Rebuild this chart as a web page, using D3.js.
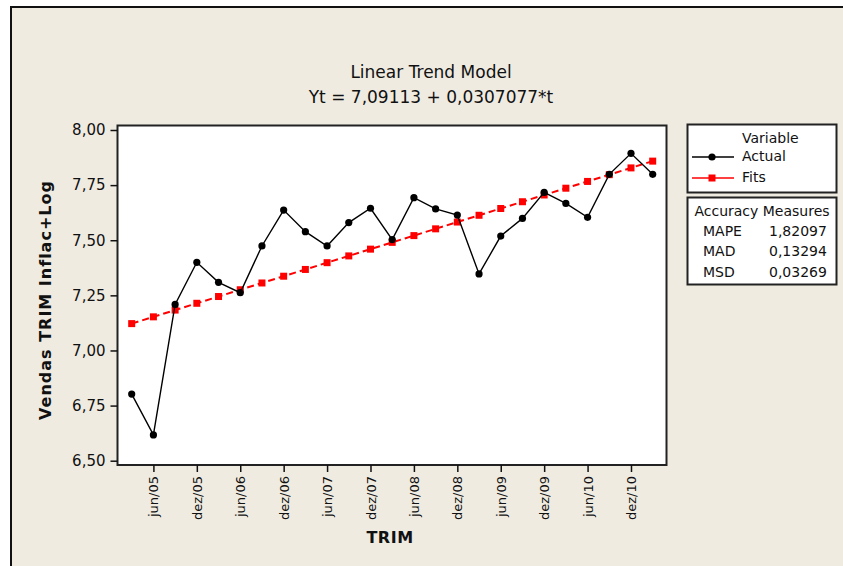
<!DOCTYPE html>
<html>
<head>
<meta charset="utf-8">
<script src="https://cdn.jsdelivr.net/npm/d3@7"></script>
<style>
  body { margin: 0; background: #fff; }
  svg { display: block; }
  text { font-family: "DejaVu Sans", sans-serif; fill: #111; }
</style>
</head>
<body>
<div id="chart"></div>
<script>
// quarters, t = 1..25
var quarters = ["mar/05","jun/05","set/05","dez/05","mar/06","jun/06","set/06","dez/06",
  "mar/07","jun/07","set/07","dez/07","mar/08","jun/08","set/08","dez/08",
  "mar/09","jun/09","set/09","dez/09","mar/10","jun/10","set/10","dez/10","mar/11"];
var tickLabels = ["jun/05","dez/05","jun/06","dez/06","jun/07","dez/07",
  "jun/08","dez/08","jun/09","dez/09","jun/10","dez/10"];
var actual = [6.802, 6.617, 7.209, 7.400, 7.309, 7.262, 7.474, 7.637, 7.539, 7.474, 7.580, 7.645,
  7.503, 7.693, 7.642, 7.614, 7.347, 7.519, 7.599, 7.717, 7.667, 7.604, 7.799, 7.894, 7.799];
var fits = [7.1218, 7.1525, 7.1832, 7.2140, 7.2447, 7.2754, 7.3061, 7.3368, 7.3675, 7.3982,
  7.4289, 7.4596, 7.4903, 7.5210, 7.5517, 7.5825, 7.6132, 7.6439, 7.6746, 7.7053,
  7.7360, 7.7667, 7.7974, 7.8281, 7.8588];
var yTicks = [6.5, 6.75, 7.0, 7.25, 7.5, 7.75, 8.0];
var measureNames = ["MAPE","MAD","MSD"];
var measureValues = ["1,82097","0,13294","0,03269"];

var W = 843, H = 566;
var svg = d3.select("#chart").append("svg")
  .attr("width", W)
  .attr("height", H)

// outer frame
svg.append("rect").attr("x", 11).attr("y", 7).attr("width", W).attr("height", H)
  .attr("fill", "#efebe1").attr("stroke", "#111").attr("stroke-width", 2)

var plot = {left: 117.5, right: 666.5, top: 125.5, bottom: 465};

var x = d3.scaleLinear().domain([1, 25]).range([131.7, 652.7]);
var y = d3.scaleLinear().domain([6.5, 8.0]).range([460.7, 130]);
var fmt = function(v){ return d3.format(".2f")(v).replace(".", ","); };

svg.append("rect")
  .attr("x", plot.left).attr("y", plot.top)
  .attr("width", plot.right - plot.left).attr("height", plot.bottom - plot.top)
  .attr("fill", "#fff").attr("stroke", "#222").attr("stroke-width", 2)

// y axis
var yAxis = svg.append("g")
  .attr("transform", "translate(" + plot.left + ",0)")
  .call(d3.axisLeft(y).tickValues(yTicks).tickFormat(fmt).tickSize(7).tickPadding(5))
yAxis.select(".domain").remove()
yAxis.selectAll("line").attr("stroke", "#111").attr("stroke-width", 1.5)
yAxis.selectAll("text").style("font-size", "15px").attr("fill", "#1b1b2e")

// x axis
var tickIdx = tickLabels.map(function(l){ return quarters.indexOf(l) + 1; });
var xAxis = svg.append("g")
  .attr("transform", "translate(0," + plot.bottom + ")")
  .call(d3.axisBottom(x).tickValues(tickIdx)
    .tickFormat(function(d){ return quarters[d - 1]; }).tickSize(7).tickPadding(5))
xAxis.select(".domain").remove()
xAxis.selectAll("line").attr("stroke", "#111").attr("stroke-width", 1.5)
xAxis.selectAll("text")
  .style("font-size", "13px")
  .attr("fill", "#1b1b2e")
  .attr("transform", "rotate(-90)")
  .attr("text-anchor", "end")
  .attr("x", -11).attr("y", 0).attr("dy", "0.35em")

// fits (dashed red)
var line = function(vals){
  return d3.line().x(function(d, i){ return x(i + 1); }).y(function(d){ return y(d); })(vals);
};
svg.append("path").attr("d", line(fits))
  .attr("fill", "none").attr("stroke", "#ff0000").attr("stroke-width", 2)
  .attr("stroke-dasharray", "7,4")
svg.selectAll("rect.fit").data(fits).enter().append("rect")
  .attr("class", "fit")
  .attr("x", function(d, i){ return x(i + 1) - 3.5; })
  .attr("y", function(d){ return y(d) - 3.5; })
  .attr("width", 7).attr("height", 7)
  .attr("fill", "#ff0000")

// actual (black)
svg.append("path").attr("d", line(actual))
  .attr("fill", "none").attr("stroke", "#000").attr("stroke-width", 1.4)
svg.selectAll("circle.act").data(actual).enter().append("circle")
  .attr("class", "act")
  .attr("cx", function(d, i){ return x(i + 1); })
  .attr("cy", function(d){ return y(d); })
  .attr("r", 3.6)
  .attr("fill", "#000")

// titles
svg.append("text").attr("x", 431).attr("y", 78).attr("text-anchor", "middle")
  .style("font-size", "17px").text("Linear Trend Model")
svg.append("text").attr("x", 431).attr("y", 103).attr("text-anchor", "middle")
  .style("font-size", "17px").text("Yt = 7,09113 + 0,0307077*t")
svg.append("text").attr("x", 390).attr("y", 543).attr("text-anchor", "middle")
  .style("font-size", "16px").style("font-weight", "bold").style("letter-spacing", "0.5px")
  .text("TRIM")
svg.append("text").attr("transform", "translate(51,300) rotate(-90)").attr("text-anchor", "middle")
  .style("font-size", "16px").style("font-weight", "bold").style("letter-spacing", "1px")
  .text("Vendas TRIM Inflac+Log")

// legend
var lg = svg.append("g")
lg.append("rect").attr("x", 687.5).attr("y", 124.5).attr("width", 149).attr("height", 68)
  .attr("fill", "#fff").attr("stroke", "#222").attr("stroke-width", 2)
lg.append("text").attr("x", 742).attr("y", 138).attr("dy", "0.35em").style("font-size", "14px").text("Variable")
lg.append("line").attr("x1", 692).attr("x2", 734).attr("y1", 157).attr("y2", 157)
  .attr("stroke", "#000").attr("stroke-width", 1.4)
lg.append("circle").attr("cx", 712).attr("cy", 157).attr("r", 3.6).attr("fill", "#000")
lg.append("text").attr("x", 742).attr("y", 156).attr("dy", "0.35em").style("font-size", "14px").text("Actual")
lg.append("line").attr("x1", 692).attr("x2", 734).attr("y1", 178).attr("y2", 178)
  .attr("stroke", "#ff0000").attr("stroke-width", 1.4)
lg.append("rect").attr("x", 708.5).attr("y", 174.5).attr("width", 7).attr("height", 7).attr("fill", "#ff0000")
lg.append("text").attr("x", 742).attr("y", 177).attr("dy", "0.35em").style("font-size", "14px").text("Fits")

var am = svg.append("g")
am.append("rect").attr("x", 687.5).attr("y", 197.5).attr("width", 149).attr("height", 87)
  .attr("fill", "#fff").attr("stroke", "#222").attr("stroke-width", 2)
am.append("text").attr("x", 762).attr("y", 211).attr("dy", "0.35em").attr("text-anchor", "middle")
  .style("font-size", "14px").text("Accuracy Measures")
am.selectAll("text.mn").data(measureNames).enter().append("text")
  .attr("class", "mn")
  .attr("x", 703).attr("y", function(d, i){ return 231 + i * 20.5; }).attr("dy", "0.35em")
  .style("font-size", "14px").text(function(d){ return d; })
am.selectAll("text.mv").data(measureValues).enter().append("text")
  .attr("class", "mv")
  .attr("x", 769).attr("y", function(d, i){ return 231 + i * 20.5; }).attr("dy", "0.35em")
  .style("font-size", "14px").text(function(d){ return d; })
</script>
</body>
</html>
